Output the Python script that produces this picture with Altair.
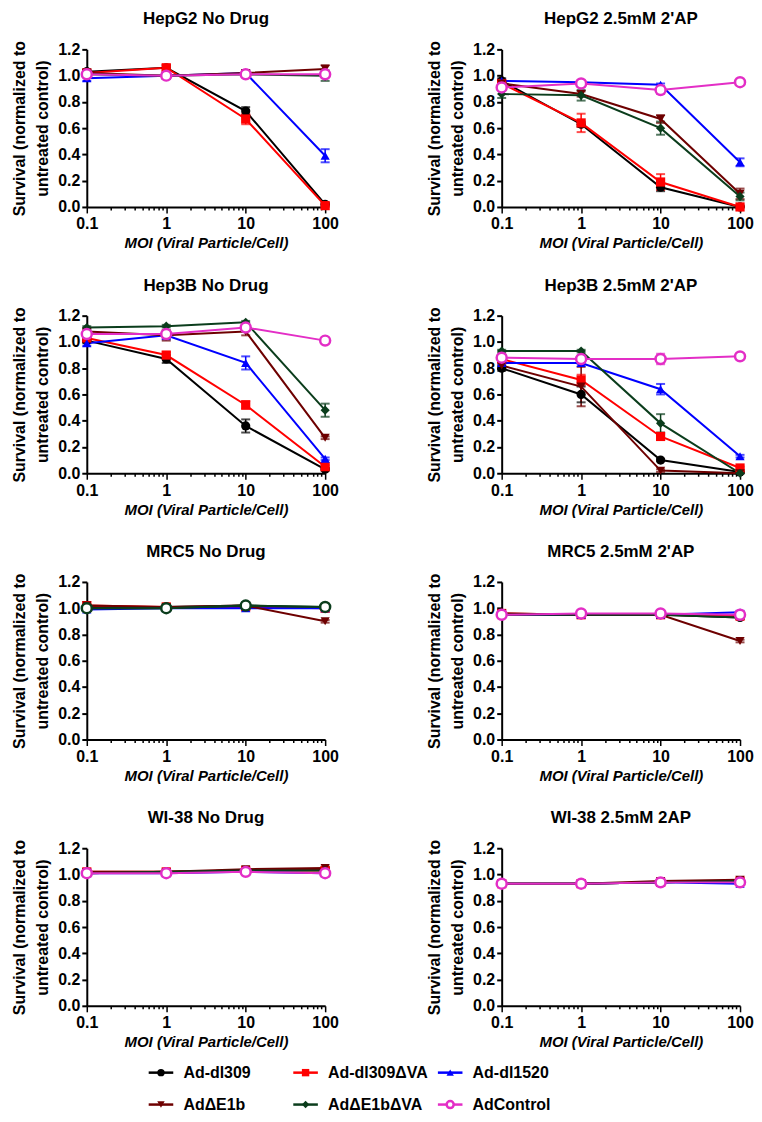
import altair as alt
import pandas as pd

# ---------------- data ----------------
MOI = [0.1, 1, 10, 100]
SERIES = ["Ad-dl309", "Ad-dl309\u0394VA", "Ad-dl1520", "Ad\u0394E1b", "Ad\u0394E1b\u0394VA", "AdControl"]
COLORS = ["#000000", "#ff0000", "#0000ff", "#6e0000", "#0b3d1c", "#e32ec6"]
SHAPES = ["circle", "square", "triangle-up", "triangle-down", "diamond", "circle"]

PANEL_TITLES = ["HepG2 No Drug", "HepG2 2.5mM 2'AP", "Hep3B No Drug", "Hep3B 2.5mM 2'AP",
                "MRC5 No Drug", "MRC5 2.5mM 2'AP", "WI-38 No Drug", "WI-38 2.5mM 2AP"]
# colour in which the AdControl trace appears in each panel
CONTROL_COLORS = ["#e32ec6", "#e32ec6", "#e32ec6", "#e32ec6", "#0b3d1c", "#e32ec6", "#e32ec6", "#e32ec6"]

# rows follow SERIES order, columns follow MOI
HEPG2_ND_MEAN = [[1.03, 1.06, 0.73, 0.02],
                 [1.02, 1.06, 0.67, 0.01],
                 [0.98, 1.00, 1.02, 0.39],
                 [1.02, 1.00, 1.02, 1.05],
                 [1.01, 1.00, 1.01, 1.00],
                 [1.01, 1.00, 1.01, 1.01]]
HEPG2_ND_ERR = [[0.02, 0.02, 0.03, 0.01],
                [0.02, 0.02, 0.04, 0.01],
                [0.02, 0.02, 0.02, 0.05],
                [0.02, 0.02, 0.02, 0.03],
                [0.02, 0.02, 0.02, 0.04],
                [0.02, 0.02, 0.02, 0.02]]

HEPG2_AP_MEAN = [[0.96, 0.63, 0.15, 0.00],
                 [0.94, 0.64, 0.19, 0.00],
                 [0.96, 0.95, 0.93, 0.34],
                 [0.94, 0.86, 0.67, 0.10],
                 [0.86, 0.85, 0.60, 0.08],
                 [0.91, 0.94, 0.89, 0.95]]
HEPG2_AP_ERR = [[0.02, 0.02, 0.03, 0.01],
                [0.02, 0.07, 0.06, 0.01],
                [0.01, 0.01, 0.01, 0.03],
                [0.02, 0.02, 0.03, 0.04],
                [0.03, 0.04, 0.05, 0.03],
                [0.02, 0.02, 0.03, 0.01]]

HEP3B_ND_MEAN = [[1.01, 0.87, 0.36, 0.03],
                 [1.03, 0.90, 0.52, 0.05],
                 [0.99, 1.05, 0.84, 0.11],
                 [1.08, 1.05, 1.08, 0.27],
                 [1.11, 1.12, 1.15, 0.48],
                 [1.06, 1.06, 1.11, 1.01]]
HEP3B_ND_ERR = [[0.02, 0.03, 0.05, 0.01],
                [0.02, 0.02, 0.03, 0.01],
                [0.02, 0.03, 0.05, 0.01],
                [0.02, 0.04, 0.03, 0.01],
                [0.01, 0.01, 0.01, 0.05],
                [0.01, 0.01, 0.01, 0.01]]

HEP3B_AP_MEAN = [[0.80, 0.60, 0.10, 0.01],
                 [0.87, 0.71, 0.28, 0.04],
                 [0.84, 0.84, 0.64, 0.13],
                 [0.82, 0.66, 0.02, 0.00],
                 [0.93, 0.93, 0.38, 0.00],
                 [0.88, 0.87, 0.87, 0.89]]
HEP3B_AP_ERR = [[0.02, 0.06, 0.01, 0.01],
                [0.02, 0.04, 0.02, 0.01],
                [0.01, 0.01, 0.04, 0.01],
                [0.02, 0.15, 0.01, 0.01],
                [0.01, 0.01, 0.07, 0.01],
                [0.02, 0.02, 0.04, 0.02]]

MRC5_ND_MEAN = [[1.01, 1.01, 1.02, 1.00],
                [1.02, 1.01, 1.01, 1.00],
                [0.99, 1.00, 1.00, 1.00],
                [1.02, 1.01, 1.02, 0.90],
                [1.00, 1.00, 1.02, 1.01],
                [1.00, 1.00, 1.02, 1.01]]
MRC5_ND_ERR = [[0.01, 0.01, 0.01, 0.01],
               [0.01, 0.01, 0.01, 0.01],
               [0.01, 0.01, 0.01, 0.01],
               [0.01, 0.01, 0.01, 0.01],
               [0.01, 0.01, 0.01, 0.01],
               [0.01, 0.01, 0.01, 0.01]]

MRC5_AP_MEAN = [[0.95, 0.95, 0.95, 0.93],
                [0.96, 0.95, 0.95, 0.94],
                [0.95, 0.95, 0.95, 0.97],
                [0.96, 0.95, 0.95, 0.75],
                [0.95, 0.95, 0.95, 0.93],
                [0.95, 0.96, 0.96, 0.95]]
MRC5_AP_ERR = [[0.01, 0.01, 0.01, 0.01],
               [0.01, 0.01, 0.01, 0.01],
               [0.01, 0.01, 0.01, 0.01],
               [0.01, 0.01, 0.01, 0.01],
               [0.01, 0.01, 0.01, 0.01],
               [0.01, 0.01, 0.01, 0.01]]

WI38_ND_MEAN = [[1.01, 1.02, 1.03, 1.04],
                [1.02, 1.02, 1.03, 1.03],
                [1.01, 1.01, 1.02, 1.01],
                [1.02, 1.02, 1.04, 1.05],
                [1.01, 1.02, 1.03, 1.03],
                [1.01, 1.01, 1.02, 1.01]]
WI38_ND_ERR = [[0.01, 0.01, 0.01, 0.01],
               [0.01, 0.01, 0.01, 0.01],
               [0.01, 0.01, 0.01, 0.01],
               [0.01, 0.01, 0.01, 0.01],
               [0.01, 0.01, 0.01, 0.01],
               [0.01, 0.01, 0.01, 0.01]]

WI38_AP_MEAN = [[0.93, 0.93, 0.94, 0.95],
                [0.93, 0.93, 0.94, 0.95],
                [0.93, 0.93, 0.94, 0.93],
                [0.93, 0.93, 0.95, 0.96],
                [0.93, 0.93, 0.94, 0.95],
                [0.93, 0.93, 0.94, 0.94]]
WI38_AP_ERR = [[0.01, 0.01, 0.01, 0.01],
               [0.01, 0.01, 0.01, 0.01],
               [0.01, 0.01, 0.01, 0.01],
               [0.01, 0.01, 0.01, 0.01],
               [0.01, 0.01, 0.01, 0.01],
               [0.01, 0.01, 0.01, 0.01]]

PANEL_MEANS = [HEPG2_ND_MEAN, HEPG2_AP_MEAN, HEP3B_ND_MEAN, HEP3B_AP_MEAN,
               MRC5_ND_MEAN, MRC5_AP_MEAN, WI38_ND_MEAN, WI38_AP_MEAN]
PANEL_ERRS = [HEPG2_ND_ERR, HEPG2_AP_ERR, HEP3B_ND_ERR, HEP3B_AP_ERR,
              MRC5_ND_ERR, MRC5_AP_ERR, WI38_ND_ERR, WI38_AP_ERR]

X_TICKS = [0.1, 0.2, 0.3, 0.4, 0.5, 0.6, 0.7, 0.8, 0.9,
           1, 2, 3, 4, 5, 6, 7, 8, 9,
           10, 20, 30, 40, 50, 60, 70, 80, 90, 100]
Y_TICKS = [0.0, 0.2, 0.4, 0.6, 0.8, 1.0, 1.2]

FONT = "Liberation Sans"
PW, PH = 239, 158

major_test = "indexof([0.1, 1, 10, 100], datum.value) >= 0"

x_axis = alt.Axis(
    values=X_TICKS,
    labelExpr=f"{major_test} ? format(datum.value, '~g') : ''",
    labelOverlap=False,
    labelFlush=False,
    tickSize={"condition": {"test": major_test, "value": 6}, "value": 3},
    tickWidth=1.5,
    domainWidth=2,
    domainColor="black",
    tickColor="black",
    labelFont=FONT, labelFontSize=16, labelFontWeight="bold", labelColor="black",
    labelPadding=3,
    titleFont=FONT, titleFontSize=15, titleFontWeight="bold", titleFontStyle="italic",
    titleColor="black", titlePadding=4,
    grid=False,
)
y_axis = alt.Axis(
    values=Y_TICKS, format=".1f", labelOverlap=False, labelFlush=False,
    tickSize=5, tickWidth=2, domainWidth=2, domainColor="black", tickColor="black",
    labelFont=FONT, labelFontSize=16, labelFontWeight="bold", labelColor="black",
    labelPadding=2,
    titleFont=FONT, titleFontSize=16, titleFontWeight="bold", titleColor="black",
    titleLineHeight=23, titlePadding=7,
    grid=False,
)

X_SCALE = alt.Scale(type="log", domain=[0.1, 100], nice=False)
Y_SCALE = alt.Scale(domain=[0, 1.2], nice=False)
Y_TITLE = ["Survival (normalized to", "untreated control)"]


def yenc(field):
    return alt.Y(field, scale=Y_SCALE, axis=y_axis, title=Y_TITLE)


def panel_frame(i):
    rows = []
    for s, name in enumerate(SERIES):
        color = CONTROL_COLORS[i] if name == "AdControl" else COLORS[s]
        for k, m in enumerate(MOI):
            v = PANEL_MEANS[i][s][k]
            e = PANEL_ERRS[i][s][k]
            rows.append({"series": name, "order": s, "moi": m, "mean": v,
                         "lo": max(v - e, 0), "hi": v + e,
                         "color": color, "shape": SHAPES[s]})
    return pd.DataFrame(rows)


def panel(i):
    df = panel_frame(i)
    base = alt.Chart(df)
    x = alt.X("moi:Q", scale=X_SCALE, axis=x_axis, title="MOI (Viral Particle/Cell)")
    col = alt.Color("color:N", scale=None)
    rule = base.mark_rule(strokeWidth=1.5).encode(
        x=x, y=yenc("lo:Q"), y2="hi:Q", color=col)
    cap_lo = base.mark_tick(orient="horizontal", size=9, thickness=2).encode(
        x=x, y=yenc("lo:Q"), color=col)
    cap_hi = base.mark_tick(orient="horizontal", size=9, thickness=2).encode(
        x=x, y=yenc("hi:Q"), color=col)
    line = base.mark_line(strokeWidth=2).encode(
        x=x, y=yenc("mean:Q"), color=col, detail="series:N", order="moi:Q")
    pts = base.transform_filter("datum.series != 'AdControl'").mark_point(
        filled=True, size=85, opacity=1).encode(
        x=x, y=yenc("mean:Q"), color=col, shape=alt.Shape("shape:N", scale=None))
    ctrl = base.transform_filter("datum.series == 'AdControl'").mark_point(
        shape="circle", size=100, fill="white", filled=False, strokeWidth=2.5, opacity=1).encode(
        x=x, y=yenc("mean:Q"), stroke=alt.Stroke("color:N", scale=None))
    return alt.layer(rule, cap_lo, cap_hi, line, pts, ctrl).properties(
        width=PW, height=PH,
        title=alt.Title(PANEL_TITLES[i], font=FONT, fontSize=17, fontWeight="bold",
                        color="black", offset=12, anchor="middle"))


rows = [alt.hconcat(panel(2 * r), panel(2 * r + 1), spacing=87) for r in range(4)]

# ---------------- legend ----------------
leg = pd.DataFrame({
    "series": SERIES,
    "color": COLORS,
    "shape": SHAPES,
    "col": [0, 1, 2, 0, 1, 2],
    "row": [0, 0, 0, 1, 1, 1],
})
LX = alt.Scale(domain=[-0.428, 4.055])
LY = alt.Scale(domain=[-0.719, 0.687], reverse=True)
lbase = alt.Chart(leg).transform_calculate(
    x0="datum.col", x1="datum.col + 0.17", xm="datum.col + 0.085", xt="datum.col + 0.24")
lline = lbase.mark_rule(strokeWidth=2.5).encode(
    x=alt.X("x0:Q", scale=LX, axis=None), x2="x1:Q",
    y=alt.Y("row:Q", scale=LY, axis=None), color=alt.Color("color:N", scale=None))
lpts = lbase.transform_filter("datum.series != 'AdControl'").mark_point(
    filled=True, size=55, opacity=1).encode(
    x=alt.X("xm:Q", scale=LX, axis=None), y=alt.Y("row:Q", scale=LY, axis=None),
    color=alt.Color("color:N", scale=None), shape=alt.Shape("shape:N", scale=None))
lctrl = lbase.transform_filter("datum.series == 'AdControl'").mark_point(
    shape="circle", size=50, fill="white", strokeWidth=2.5, opacity=1).encode(
    x=alt.X("xm:Q", scale=LX, axis=None), y=alt.Y("row:Q", scale=LY, axis=None),
    stroke=alt.Stroke("color:N", scale=None))
ltext = lbase.mark_text(align="left", baseline="middle", font=FONT, fontSize=16,
                        fontWeight="bold", color="black").encode(
    x=alt.X("xt:Q", scale=LX, axis=None), y=alt.Y("row:Q", scale=LY, axis=None),
    text="series:N")
legend = alt.layer(lline, lpts, lctrl, ltext).properties(width=650, height=45)

chart = alt.vconcat(alt.vconcat(*rows, spacing=25), legend, spacing=0).properties(
    padding={"left": 3, "top": 0, "right": 0, "bottom": 0}
).configure_view(stroke=None)

chart.save("out.html", embed_options={"renderer": "svg", "actions": False})
